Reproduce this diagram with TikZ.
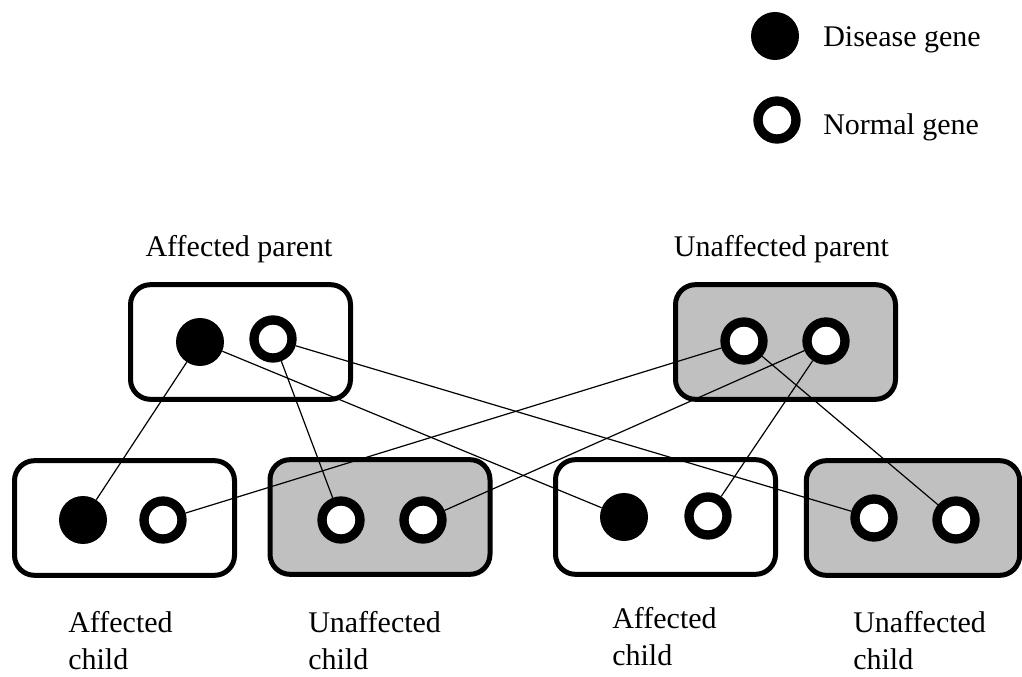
\documentclass[tikz,border=0pt]{standalone}
\usepackage{fontspec}
\setmainfont{Liberation Serif}
\usepackage{tikz}
\usetikzlibrary{positioning,calc}
\definecolor{cellgray}{RGB}{192,192,192}
\tikzset{
 cell/.style={rectangle,draw,rounded corners=15pt,line width=3.75pt,
   minimum width=165pt,minimum height=86pt,inner sep=0pt},
 sick cell/.style={cell,fill=white},
 well cell/.style={cell,fill=cellgray},
 disease/.style={circle,fill=black,draw=none,minimum size=36pt,inner sep=0pt},
 normal/.style={circle,draw,fill=white,line width=7pt,minimum size=28.5pt,inner sep=0pt},
 link/.style={line width=0.9pt},
 caption/.style={inner sep=0pt,align=left}}

\begin{document}
\begin{tikzpicture}[x=0.75pt,y=-0.75pt,font=\fontsize{22.5}{27.75}\selectfont]
  \useasboundingbox (0,0) rectangle (1022,677);
  % key
  \node[disease] (keyd) at (775,36) {};
  \node[normal] (keyn) at (777,120) {};
  \node[caption,anchor=base west] (keydl) at (823,47) {Disease gene};
  \node[caption,anchor=base west] (keynl) at (823,135) {Normal gene};
  % parents
  \node[sick cell] (ap) at (240.5,342) {};
  \node[well cell] (up) at (785.5,342) {};
  \node[caption,anchor=base] (apl) at (239,257) {Affected parent};
  \node[caption,anchor=base] (upl) at (781.5,257) {Unaffected parent};
  % children
  \node[sick cell] (c1) at (124.5,518) {};
  \node[well cell] (c2) at (380,517) {};
  \node[sick cell] (c3) at (665.5,517) {};
  \node[well cell,minimum width=160pt] (c4) at (913,518) {};
  \node[caption,anchor=base west] (c1l) at (68,669) {Affected\\child};
  \node[caption,anchor=base west] (c2l) at (308,669) {Unaffected\\child};
  \node[caption,anchor=base west] (c3l) at (612,665) {Affected\\child};
  \node[caption,anchor=base west] (c4l) at (853,669) {Unaffected\\child};
  % genes
  \node[disease] (apd) at (200,342) {};
  \node[normal] (apn) at (273,339) {};
  \node[normal] (upa) at (744,341) {};
  \node[normal] (upb) at (826,341) {};
  \node[disease] (c1d) at (83,520) {};
  \node[normal] (c1n) at (163,520) {};
  \node[normal] (c2a) at (341,520) {};
  \node[normal] (c2b) at (423,520) {};
  \node[disease] (c3d) at (624,517) {};
  \node[normal] (c3n) at (708,516) {};
  \node[normal] (c4a) at (874,518) {};
  \node[normal] (c4b) at (956,520) {};
  % inheritance
  \draw[link] (apd) -- (c1d);
  \draw[link] (apd) -- (c3d);
  \draw[link] (apn) -- (c2a);
  \draw[link] (apn) -- (c4a);
  \draw[link] (upa) -- (c1n);
  \draw[link] (upa) -- (c4b);
  \draw[link] (upb) -- (c2b);
  \draw[link] (upb) -- (c3n);
\end{tikzpicture}
\end{document}
